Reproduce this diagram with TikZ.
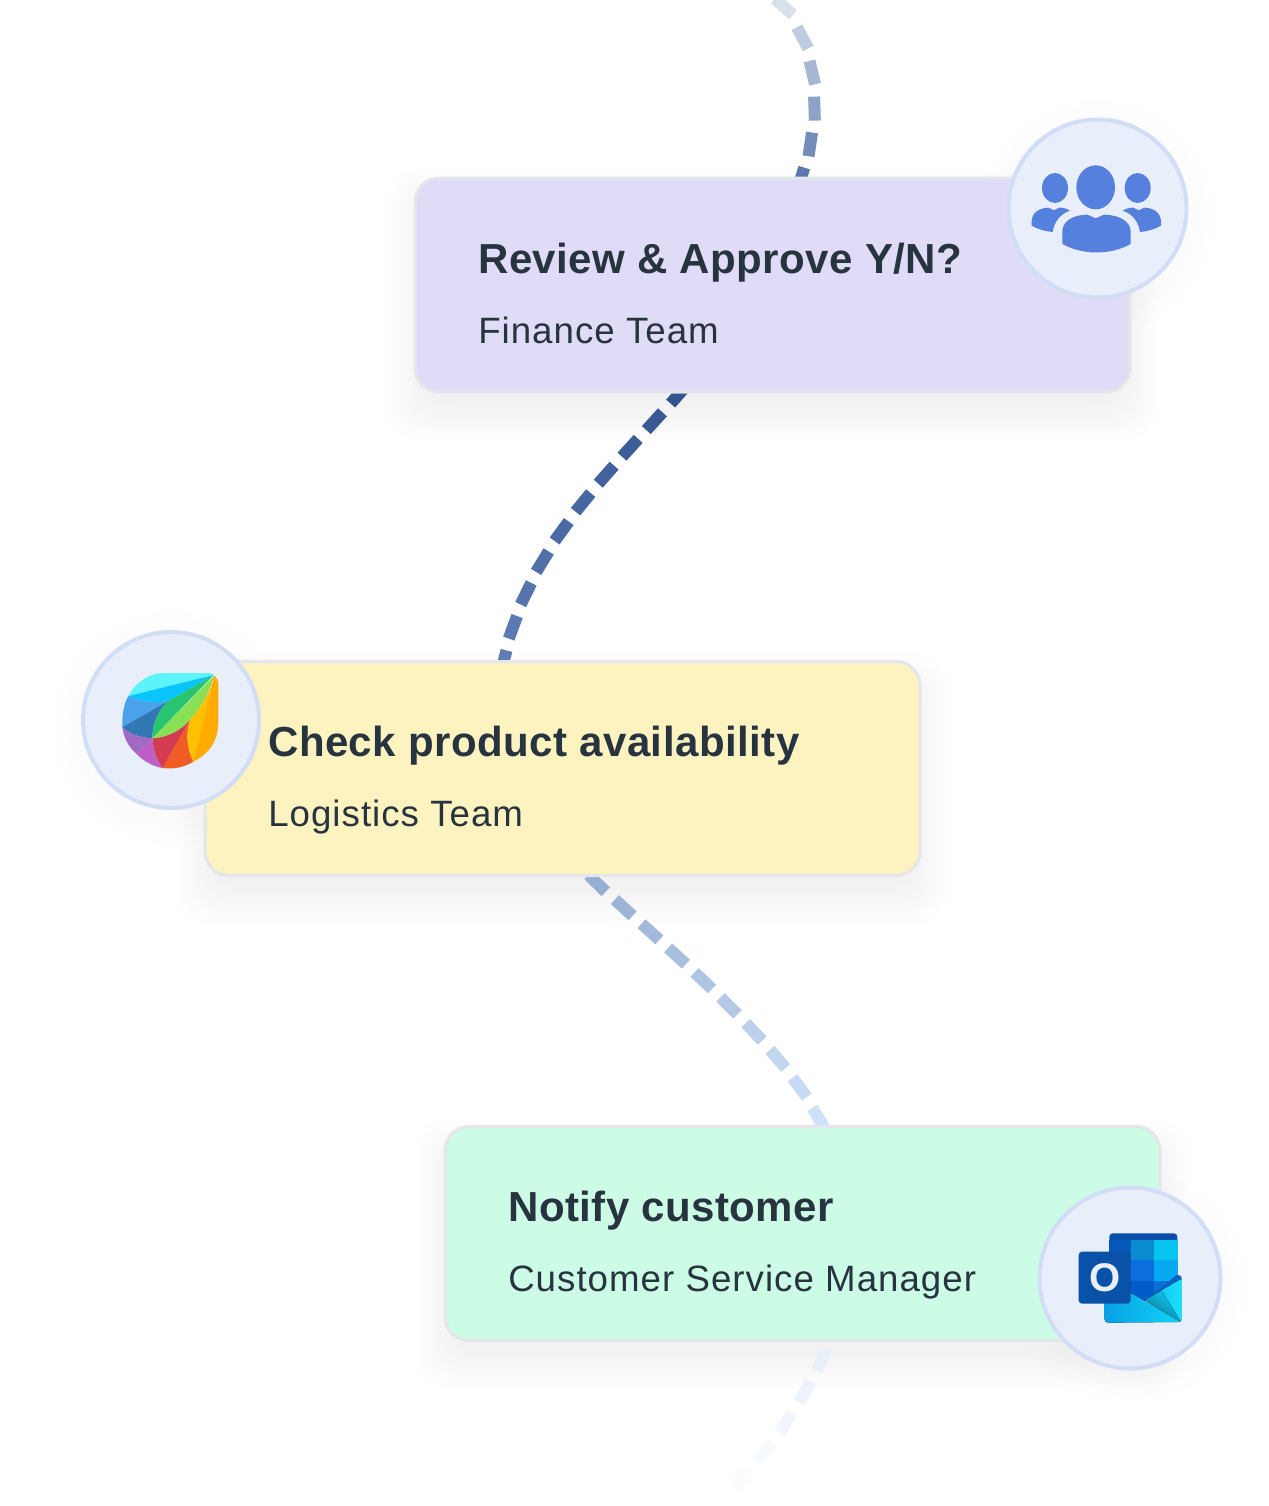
\documentclass[tikz,border=0pt]{standalone}
\usepackage{fontspec}
\setmainfont{Liberation Sans}
\usetikzlibrary{backgrounds,calc,decorations.markings}

\definecolor{inktext}{HTML}{27343F}
\definecolor{boxedge}{HTML}{E4E6EC}
\definecolor{reviewfill}{HTML}{E0DCF8}
\definecolor{stockfill}{HTML}{FDF3C1}
\definecolor{notifyfill}{HTML}{CCFCE6}
\definecolor{roundfill}{HTML}{E8EEFA}
\definecolor{roundedge}{HTML}{D2DDF6}
\definecolor{peopleblue}{HTML}{5580DD}
\definecolor{flowtopa}{HTML}{D8E0EC}
\definecolor{flowtopb}{HTML}{4F6EA8}
\definecolor{flowmida}{HTML}{33548F}
\definecolor{flowmidb}{HTML}{6280B8}
\definecolor{flowlowa}{HTML}{97AED3}
\definecolor{flowlowb}{HTML}{D4E6FC}
\definecolor{flowouta}{HTML}{EAF0FA}
\definecolor{flowoutb}{HTML}{FFFFFF}

\tikzset{
	taskbox/.style={draw=boxedge,line width=2.25pt,rounded corners=18pt,inner sep=0pt,
		minimum width=536.25pt,minimum height=160.5pt},
	iconround/.style={circle,draw=roundedge,fill=roundfill,line width=3pt,inner sep=0pt},
	tasktitle/.style={anchor=base west,inner sep=0pt,text=inktext,font=\fontsize{31.5pt}{36pt}\selectfont\bfseries\addfontfeature{LetterSpace=1.1}},
	taskteam/.style={anchor=base west,inner sep=0pt,text=inktext,font=\fontsize{27.5pt}{32pt}\selectfont\addfontfeature{LetterSpace=2.8}},
	flowdash/.style 2 args={decorate,decoration={markings,
		mark=between positions 0 and 1 step 27pt with {
			\pgfmathsetmacro\mixpct{min(100,100*(\pgfkeysvalueof{/pgf/decoration/mark info/distance from start}/\pgfdecoratedpathlength))}
			\draw[line width=9pt,color=#2!\mixpct!#1] (0pt,0pt) -- (18pt,0pt);
		}}}
}

\begin{document}
\begin{tikzpicture}[x=.75pt,y=-.75pt]
	
	% Page
	\path[use as bounding box] (0,0) rectangle (1268,1506);
	
	% Task boxes
	\node[taskbox,fill=reviewfill] (review) at (772.5,285) {};
	\node[taskbox,fill=stockfill] (stock) at (562.5,768.5) {};
	\node[taskbox,fill=notifyfill] (notify) at (802.5,1233.5) {};
	
	\node[tasktitle] (reviewtitle) at (478,273) {Review \& Approve Y/N?};
	\node[taskteam] (reviewteam) at (478,343) {Finance Team};
	\node[tasktitle] (stocktitle) at (268,756) {Check product availability};
	\node[taskteam] (stockteam) at (268,826) {Logistics Team};
	\node[tasktitle] (notifytitle) at (508,1221) {Notify customer};
	\node[taskteam] (notifyteam) at (508,1291) {Customer Service Manager};
	
	% Round icon holders
	\node[iconround,minimum size=133.5pt] (teamround) at (1097.5,208.5) {};
	\node[iconround,minimum size=132pt] (leafround) at (171,720) {};
	\node[iconround,minimum size=135.75pt] (mailround) at (1130,1278) {};
	
	% Soft shadows and dashed connectors, below the boxes
	\begin{scope}[on background layer]
		\fill[white] (0,0) rectangle (1268,1506);
		\foreach \s in {-8,-5,...,28}{
			\foreach \boxname in {review,stock,notify}{
				\fill[black,opacity=.004,rounded corners=24pt]
				($(\boxname.north west)+(-\s,20-\s)$) rectangle ($(\boxname.south east)+(\s,20+\s)$);
			}
		}
		\foreach \s in {4,12,20,28}{
			\foreach \roundname in {teamround,leafround,mailround}{
				\fill[black,opacity=.004] ($(\roundname)+(0,8)$) circle [radius=90+\s];
			}
		}
		
		\coordinate (topin) at (775,-1);
		\coordinate (bottomout) at (722,1497);
		\path[flowdash={flowtopa}{flowtopb}] (topin) .. controls (810,30) and (830,100) .. ($(review.north)+(26,8)$);
		\path[flowdash={flowmida}{flowmidb}] ($(review.south)+(-86,-8)$) .. controls (607,476) and (527,545) .. ($(stock.north)+(-60,8)$);
		\path[flowdash={flowlowa}{flowlowb}] ($(stock.south)+(26,-2)$) .. controls (651.5,936) and (795,1050) .. ($(notify.north)+(24,12)$);
		\path[flowdash={flowouta}{flowoutb}] ($(notify.south)+(24,7)$) .. controls (806,1395) and (770,1455) .. (bottomout);
	\end{scope}
	
	% People icon
	\begin{scope}[shift={(1000,110)},x=.25pt,y=-.25pt,fill=peopleblue]
		\fill (287,232) ellipse [x radius=58,y radius=66];
		\fill (165,234) ellipse [x radius=39,y radius=45];
		\fill (413,234) ellipse [x radius=39,y radius=45];
		\fill (187,402) -- (187,365) .. controls (187,335) and (215,315) .. (262,314)
		-- (287,325) -- (312,314) .. controls (360,315) and (392,335) .. (392,365)
		-- (392,402) .. controls (330,436) and (250,436) .. (187,402) -- cycle;
		\fill (95,347) -- (95,335) .. controls (95,310) and (115,294) .. (145,293)
		-- (162,301) -- (178,293) .. controls (190,293) and (200,296) .. (210,302)
		.. controls (180,312) and (163,335) .. (158,366) .. controls (135,364) and (112,357) .. (95,347) -- cycle;
		\fill (483,347) -- (483,335) .. controls (483,310) and (463,294) .. (433,293)
		-- (416,301) -- (400,293) .. controls (388,293) and (378,296) .. (368,302)
		.. controls (398,312) and (415,335) .. (420,366) .. controls (443,364) and (466,357) .. (483,347) -- cycle;
	\end{scope}
	
	% Leaf icon
	\begin{scope}[shift={(75,625)},x=.25pt,y=-.25pt]
		\fill[fill={rgb,255:red,92;green,243;blue,251}] (160,213) .. controls (182,172) and (222,145) .. (265,144) -- (400,144) .. controls (408,144) and (413,146) .. (416,150) -- cycle;
		\fill[fill={rgb,255:red,10;green,196;blue,252}] (160,213) -- (416,150) -- (280,228) .. controls (240,236) and (195,230) .. (160,213) -- cycle;
		\fill[fill={rgb,255:red,74;green,162;blue,234}] (160,213) .. controls (148,235) and (141,262) .. (142,307) -- (280,228) .. controls (240,236) and (195,230) .. (160,213) -- cycle;
		\fill[fill={rgb,255:red,48;green,119;blue,180}] (142,307) -- (280,228) .. controls (250,255) and (232,295) .. (232,340) .. controls (195,338) and (165,328) .. (142,307) -- cycle;
		\fill[fill={rgb,255:red,41;green,196;blue,111}] (232,340) .. controls (232,295) and (250,255) .. (280,228) -- (416,150) -- cycle;
		\fill[fill={rgb,255:red,138;green,224;blue,85}] (232,340) -- (418,152) .. controls (400,210) and (375,250) .. (345,285) .. controls (320,315) and (280,338) .. (232,340) -- cycle;
		\fill[fill={rgb,255:red,160;green,106;blue,196}] (142,307) .. controls (165,328) and (195,338) .. (232,340) -- (185,387) .. controls (160,365) and (147,340) .. (142,307) -- cycle;
		\fill[fill={rgb,255:red,188;green,96;blue,200}] (185,387) -- (232,340) .. controls (235,375) and (245,405) .. (263,429) .. controls (235,425) and (205,408) .. (185,387) -- cycle;
		\fill[fill={rgb,255:red,211;green,60;blue,80}] (232,340) .. controls (280,338) and (320,315) .. (345,285) -- (263,429) .. controls (245,405) and (235,375) .. (232,340) -- cycle;
		\fill[fill={rgb,255:red,240;green,92;blue,36}] (263,429) -- (345,285) .. controls (332,325) and (335,370) .. (355,410) .. controls (325,428) and (295,433) .. (263,429) -- cycle;
		\fill[fill={rgb,255:red,255;green,192;blue,0}] (418,152) .. controls (405,205) and (375,250) .. (345,285) .. controls (332,325) and (335,370) .. (355,410) -- cycle;
		\fill[fill={rgb,255:red,255;green,171;blue,0}] (355,410) .. controls (405,385) and (430,345) .. (430,290) -- (430,175) .. controls (430,165) and (425,157) .. (418,152) -- cycle;
	\end{scope}
	
	% Mail icon
	\begin{scope}[shift={(1030,1180)},x=.25pt,y=-.25pt]
		\fill[fill={rgb,255:red,10;green,77;blue,168},rounded corners=2.5pt] (238,160) rectangle (442,200);
		\foreach \cellx/\celly/\cellcol in {238/180/0358B8,303/180/0A8AD0,373/180/05C5EE,
			238/240/0358B8,303/240/0A6FDC,373/240/08A8F0,238/302/0348B0,303/302/045CC8,373/302/0A70D8}{
			\definecolor{cellfill}{HTML}{\cellcol}
			\fill[cellfill] (\cellx,\celly) rectangle ++(69.5,62);
		}
		\fill[fill={rgb,255:red,10;green,95;blue,192}] (345,362) -- (440,285) .. controls (448,282) and (455,288) .. (455,297) -- (455,330) -- cycle;
		\fill[left color={rgb,255:red,13;green,184;blue,240},right color={rgb,255:red,28;green,224;blue,250},rounded corners=1pt]
		(345,360) -- (455,296) -- (455,422) -- (445,427) -- cycle;
		\fill[top color={rgb,255:red,18;green,200;blue,244},bottom color={rgb,255:red,10;green,124;blue,156},shading angle=-35]
		(345,360) -- (395,332) -- (452,424) -- cycle;
		\fill[left color={rgb,255:red,10;green,160;blue,228},right color={rgb,255:red,16;green,212;blue,246},rounded corners=2.5pt]
		(224,340) -- (303,339) -- (450,426) -- (224,428) -- cycle;
		\fill[fill={rgb,255:red,10;green,82;blue,168},rounded corners=2.5pt] (146,215) rectangle (302,371);
		\node[inner sep=0pt,text=roundfill,font=\fontsize{30pt}{30pt}\selectfont\bfseries] (mailletter) at (224,293) {O};
	\end{scope}
	
\end{tikzpicture}
\end{document}
